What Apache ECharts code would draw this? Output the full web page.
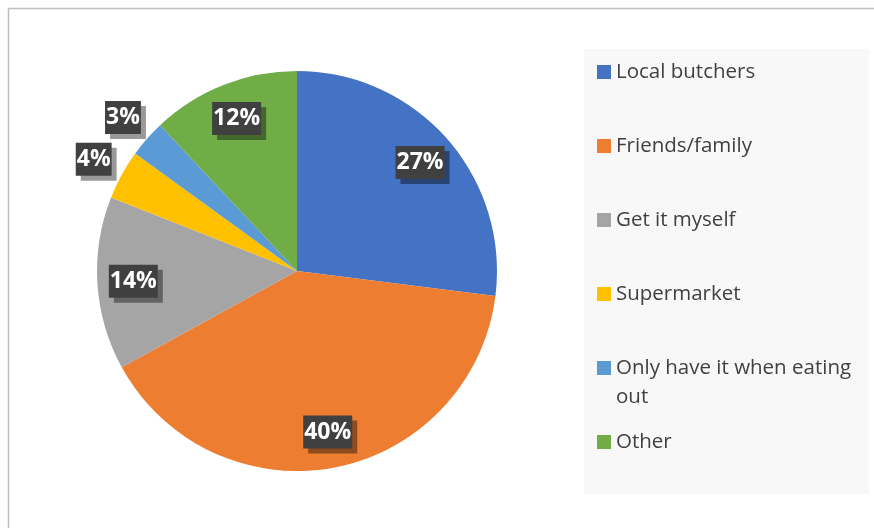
<!DOCTYPE html>
<html>
<head>
<meta charset="utf-8">
<script src="https://cdn.jsdelivr.net/npm/echarts@6/dist/echarts.min.js"></script>
<style>
  html, body { margin: 0; padding: 0; background: #ffffff; }
  #chart { width: 874px; height: 528px; }
</style>
</head>
<body>
<div id="chart"></div>
<script>
// Where people get their meat — share of responses
const categories = ['Local butchers', 'Friends/family', 'Get it myself', 'Supermarket', 'Only have it when eating out', 'Other'];
const shares = [27, 40, 14, 4, 3, 12];
const colors = ['#4472c4', '#ed7d31', '#a5a5a5', '#ffc000', '#5b9bd5', '#70ad47'];

// Vertical centre of each legend row
const legendRowCenters = [72, 146, 220, 294, 368, 442];

const CX = 297, CY = 271, R = 200;
const LEGEND_LINE = 29;
const LABEL_FONT = '"Open Sans", "Liberation Sans", sans-serif';
const LEGEND_FONT = '"Open Sans", "Liberation Sans", sans-serif';

const chart = echarts.init(document.getElementById('chart'), null, { renderer: 'canvas' });

const percentLabel = {
  formatter: p => p.value + '%',
  color: '#ffffff',
  fontFamily: LABEL_FONT,
  fontWeight: 'bold',
  fontSize: 23,
  lineHeight: 28,
  backgroundColor: '#404040',
  padding: [3, 1, 2, 1],
  shadowColor: 'rgba(0,0,0,0.4)',
  shadowBlur: 0,
  shadowOffsetX: 5,
  shadowOffsetY: 5
};

function labelData(showFn) {
  return categories.map((name, i) => ({
    name: name,
    value: shares[i],
    label: { show: showFn(shares[i]) }
  }));
}

// Long legend names break before their last word; a blank leading line keeps
// the marker level with the first text line.
function legendText(name) {
  const words = name.split(' ');
  if (words.length > 4) {
    return '\n' + words.slice(0, -1).join(' ') + '\n' + words[words.length - 1];
  }
  return name;
}

const legends = categories.map((name, i) => {
  const lines = legendText(name).split('\n').length;
  return {
    data: [name],
    orient: 'vertical',
    left: 597,
    top: legendRowCenters[i] - (lines * LEGEND_LINE) / 2,
    padding: 0,
    itemWidth: 14,
    itemHeight: 14,
    icon: 'rect',
    selectedMode: false,
    formatter: legendText,
    textStyle: {
      fontFamily: LEGEND_FONT,
      fontSize: 20.5,
      color: '#404040',
      lineHeight: LEGEND_LINE
    }
  };
});

const option = {
  animation: false,
  backgroundColor: '#ffffff',
  color: colors,
  graphic: [
    {
      type: 'rect',
      shape: { x: 8.5, y: 8.5, width: 900, height: 600 },
      style: { fill: 'none', stroke: '#bfbfbf', lineWidth: 1.5 },
      silent: true,
      z: -10
    },
    {
      type: 'rect',
      shape: { x: 584, y: 49, width: 285, height: 445 },
      style: { fill: '#f8f8f8' },
      silent: true,
      z: -5
    }
  ],
  legend: legends,
  series: [
    {
      type: 'pie',
      center: [CX, CY],
      radius: [0, R],
      startAngle: 90,
      clockwise: true,
      silent: true,
      label: { show: false },
      labelLine: { show: false },
      itemStyle: { borderWidth: 0 },
      emphasis: { disabled: true },
      data: categories.map((name, i) => ({ name: name, value: shares[i] }))
    },
    {
      // labels for the larger slices, placed inside the pie
      type: 'pie',
      center: [CX, CY],
      radius: [122, R],
      startAngle: 90,
      clockwise: true,
      silent: true,
      legendHoverLink: false,
      itemStyle: { color: 'rgba(0,0,0,0)', borderWidth: 0 },
      label: Object.assign({ position: 'inside' }, percentLabel),
      labelLine: { show: false },
      emphasis: { disabled: true },
      data: labelData(v => v >= 10)
    },
    {
      // labels for the thin slices, just outside the rim
      type: 'pie',
      center: [CX, CY],
      radius: [R, 258],
      startAngle: 90,
      clockwise: true,
      silent: true,
      legendHoverLink: false,
      itemStyle: { color: 'rgba(0,0,0,0)', borderWidth: 0 },
      label: Object.assign({ position: 'inside' }, percentLabel),
      labelLine: { show: false },
      emphasis: { disabled: true },
      data: labelData(v => v < 10)
    }
  ]
};

chart.setOption(option);
</script>
</body>
</html>
